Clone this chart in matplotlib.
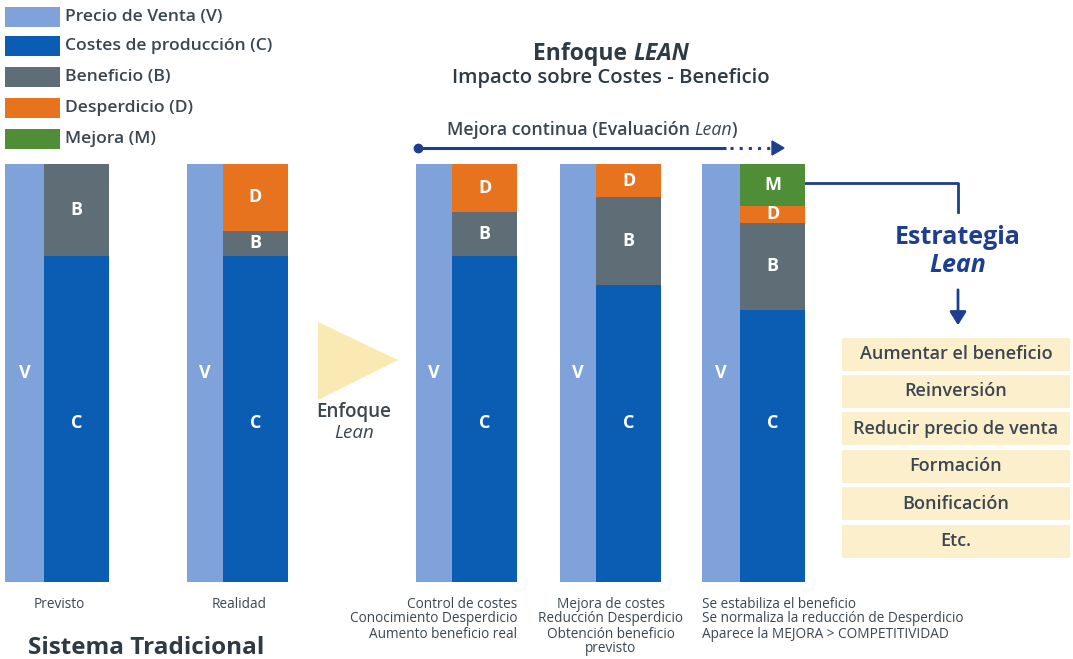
import matplotlib
matplotlib.use("Agg")
import matplotlib.pyplot as plt
from matplotlib.patches import Rectangle, Polygon, FancyArrowPatch

# ---- data (share of sale price V = 100) ----
scenarios = ["Previsto", "Realidad", "Lean 1", "Lean 2", "Lean 3"]
precio_venta = [100, 100, 100, 100, 100]
costes = [78, 78, 78, 71, 65]
beneficio = [22, 6, 10.5, 21, 21]
desperdicio = [0, 16, 11.5, 8, 4]
mejora = [0, 0, 0, 0, 10]

legend_labels = ["Precio de Venta (V)", "Costes de producción (C)", "Beneficio (B)",
                 "Desperdicio (D)", "Mejora (M)"]
captions = [["Previsto"], ["Realidad"],
            ["Control de costes", "Conocimiento Desperdicio", "Aumento beneficio real"],
            ["Mejora de costes", "Reducción Desperdicio", "Obtención beneficio", "previsto"],
            ["Se estabiliza el beneficio", "Se normaliza la reducción de Desperdicio",
             "Aparece la MEJORA > COMPETITIVIDAD"]]
estrategias = ["Aumentar el beneficio", "Reinversión", "Reducir precio de venta",
               "Formación", "Bonificación", "Etc."]

# ---- style ----
C_V = "#7fa2da"
C_C = "#0b5cb3"
C_B = "#5e6d76"
C_D = "#e8731f"
C_M = "#4f8e37"
NAVY = "#1e3f8e"
TXT = "#3b4650"
DARK = "#2e3b45"
BOX = "#fcefcc"
colors = [C_V, C_C, C_B, C_D, C_M]

plt.rcParams['font.family'] = ['Open Sans', 'DejaVu Sans']

W, H = 1073, 659
fig = plt.figure(figsize=(W / 100, H / 100), dpi=100)
fig.patch.set_facecolor("white")

# overlay axes in pixel coordinates for annotations
ax = fig.add_axes([0, 0, 1, 1])
ax.set_xlim(0, W)
ax.set_ylim(H, 0)
ax.axis("off")
renderer = fig.canvas.get_renderer()


def mixed_text(pieces, xc, y, size, color):
    """write pieces [(text, style, weight)] side by side, centred on xc"""
    widths = []
    for txt, st, wt in pieces:
        t = ax.text(0, 0, txt, fontsize=size, style=st, fontweight=wt)
        widths.append(t.get_window_extent(renderer).width)
        t.remove()
    x = xc - sum(widths) / 2
    for (txt, st, wt), w in zip(pieces, widths):
        ax.text(x, y, txt, fontsize=size, style=st, fontweight=wt, color=color,
                ha="left", va="center")
        x += w


# bar axes: y from 164 px (top) to 582 px (bottom)
bar_top, bar_bot = 164, 582
bx = fig.add_axes([0, (H - bar_bot) / H, 1, (bar_bot - bar_top) / H])
bx.set_xlim(0, W)
bx.set_ylim(0, 100)
bx.axis("off")
bx.patch.set_alpha(0)

v_left = [5, 187, 416, 560, 702]   # left edge of V bar per group (px)
v_w = [39, 36, 36, 36, 38]
s_w = 65

for i in range(len(scenarios)):
    xv = v_left[i] + v_w[i] / 2
    bx.bar(xv, precio_venta[i], width=v_w[i], color=C_V, linewidth=0)
    bx.text(xv, 50, "V", color="white", fontsize=13, fontweight="bold", ha="center", va="center")
    xs = v_left[i] + v_w[i] + s_w / 2
    bottom = 0
    for val, col, lab in [(costes[i], C_C, "C"), (beneficio[i], C_B, "B"),
                          (desperdicio[i], C_D, "D"), (mejora[i], C_M, "M")]:
        if val <= 0:
            continue
        bx.bar(xs, val, width=s_w, bottom=bottom, color=col, linewidth=0)
        ly = bottom + val / 2 if lab != "C" else 38
        bx.text(xs, ly, lab, color="white", fontsize=13, fontweight="bold",
                ha="center", va="center")
        bottom += val

# legend
leg_y = [17, 46, 77, 108, 139]
for lab, col, y in zip(legend_labels, colors, leg_y):
    ax.add_patch(Rectangle((5, y - 10), 55, 20, facecolor=col, edgecolor="none"))
    ax.text(65, y, lab, fontsize=12.6, color=TXT, va="center", ha="left", fontweight="semibold")

# titles
mixed_text([("Enfoque ", "normal", "bold"), ("LEAN", "italic", "bold")], 611, 54, 16.5, DARK)
ax.text(611, 78, "Impacto sobre Costes - Beneficio", fontsize=14.6, fontweight="semibold",
        color=DARK, ha="center", va="center")
mixed_text([("Mejora continua (Evaluación ", "normal", "semibold"),
            ("Lean", "italic", "normal"), (")", "normal", "semibold")], 592, 130, 12.8, TXT)

# continuous improvement arrow
ax.plot([418, 726], [148, 148], color=NAVY, lw=2.2, solid_capstyle="butt")
ax.plot([418], [148], "o", color=NAVY, ms=6)
ax.plot([730, 772], [148, 148], color=NAVY, lw=2.2, ls=(0, (1, 2)))
ax.add_patch(Polygon([[772, 141], [784, 148], [772, 155]], closed=True, color=NAVY))

# yellow triangle
ax.add_patch(Polygon([[318, 322], [398, 360], [318, 400]], closed=True,
                     facecolor="#fbe9b4", edgecolor="none"))
ax.text(354, 412, "Enfoque", fontsize=13.5, color=TXT, ha="center", va="center",
        fontweight="semibold")
ax.text(354, 433, "Lean", fontsize=13.5, color=TXT, ha="center", va="center", style="italic")

# captions under bars
cap_x = [59, 239, 517, 611, 702]
cap_ha = ["center", "center", "right", "center", "left"]
for i, lines in enumerate(captions):
    for j, line in enumerate(lines):
        ax.text(cap_x[i], 604 + j * 15, line, fontsize=9.8, color=TXT, ha=cap_ha[i],
                va="center")

ax.text(146, 648, "Sistema Tradicional", fontsize=17.5, fontweight="bold", color=DARK,
        ha="center", va="center")

# connector to strategy
ax.plot([805, 958, 958], [183, 183, 212], color=NAVY, lw=2)
ax.text(958, 238, "Estrategia", fontsize=18, fontweight="bold", color=NAVY,
        ha="center", va="center")
ax.text(958, 266, "Lean", fontsize=18, fontweight="bold", style="italic", color=NAVY,
        ha="center", va="center")
ax.add_patch(FancyArrowPatch((958, 287), (958, 328), arrowstyle="-|>,head_length=8,head_width=5",
                             color=NAVY, lw=2, mutation_scale=1))

# strategy boxes
for k, txt in enumerate(estrategias):
    yc = 354 + k * 37.4
    ax.add_patch(Rectangle((842, yc - 16.5), 228, 33, facecolor=BOX, edgecolor="none"))
    ax.text(956, yc, txt, fontsize=13, color=TXT, ha="center", va="center",
            fontweight="semibold")

fig.savefig("out.png", dpi=100)
